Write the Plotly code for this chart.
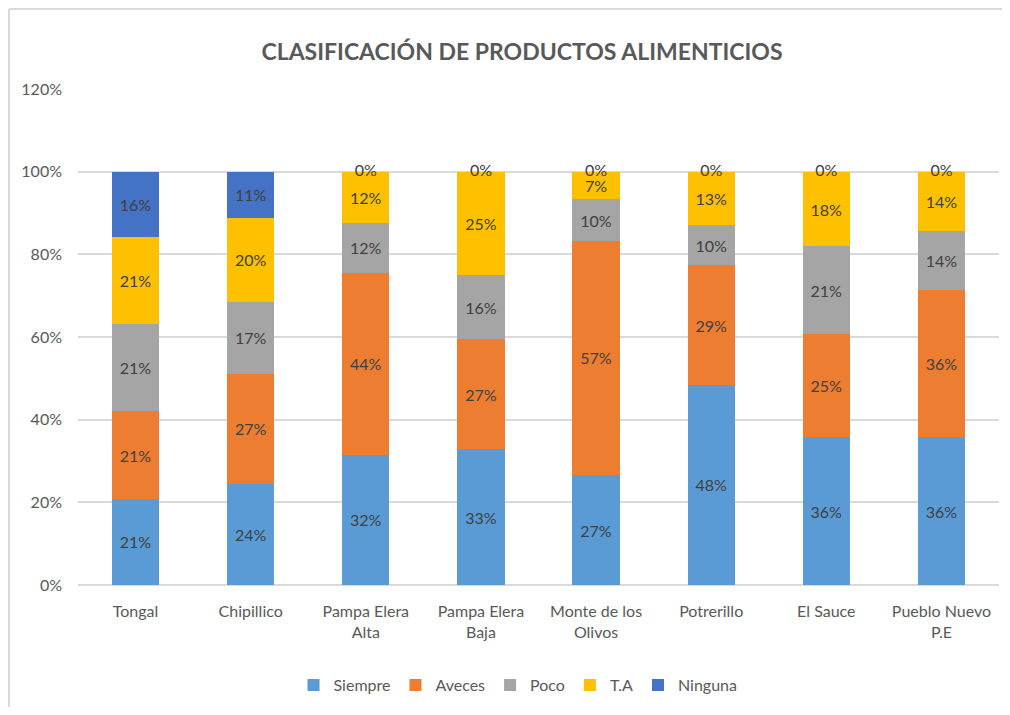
import plotly.graph_objects as go

categories = ["Tongal", "Chipillico", "Pampa Elera<br>Alta", "Pampa Elera<br>Baja",
              "Monte de los<br>Olivos", "Potrerillo", "El Sauce", "Pueblo Nuevo<br>P.E"]

siempre = [0.209, 0.244, 0.315, 0.328, 0.266, 0.484, 0.358, 0.357]
aveces  = [0.211, 0.267, 0.440, 0.266, 0.567, 0.290, 0.250, 0.357]
poco    = [0.211, 0.174, 0.122, 0.156, 0.100, 0.097, 0.211, 0.143]
ta      = [0.210, 0.204, 0.123, 0.250, 0.067, 0.129, 0.181, 0.143]
ninguna = [0.159, 0.111, 0.000, 0.000, 0.000, 0.000, 0.000, 0.000]

series = [
    ("Siempre", siempre, "#5B9BD5"),
    ("Aveces", aveces, "#ED7D31"),
    ("Poco", poco, "#A5A5A5"),
    ("T.A", ta, "#FFC000"),
    ("Ninguna", ninguna, "#4472C4"),
]

FONT = "Lato, Carlito, Calibri, sans-serif"
TXT = "#404040"
AX = "#595959"
FS = 16

fig = go.Figure()
for name, vals, color in series:
    fig.add_trace(go.Bar(
        name=name, x=categories, y=vals, marker_color=color,
        marker_line_width=0,
        text=[f"{round(v*100):d}%" if v > 0 else "" for v in vals],
        textposition="inside", insidetextanchor="middle",
        constraintext="none",
        textfont=dict(family=FONT, size=FS, color=TXT),
        hoverinfo="skip",
    ))

# labels for zero-valued "Ninguna" segments, placed at top of each stack
totals = [s + a + p + t + n for s, a, p, t, n in zip(siempre, aveces, poco, ta, ninguna)]
zx = [c for c, n in zip(categories, ninguna) if n == 0]
zy = [tot for tot, n in zip(totals, ninguna) if n == 0]
zt = [f"{round(n*100):d}%" for n in ninguna if n == 0]
fig.add_trace(go.Scatter(x=zx, y=zy, mode="text", text=zt, textposition="middle center",
                         textfont=dict(family=FONT, size=FS, color=TXT),
                         showlegend=False, hoverinfo="skip"))

# page body has an 8px offset; figure coordinates = page coordinates - 8
OFF = 8
W, H = 1010 - 2 * OFF, 715 - 2 * OFF
L, T = 78 - OFF, 89 - OFF
pw, ph = 921, 496
R, B = W - L - pw, H - T - ph
def px(x): return (x - OFF - L) / pw
def py(y): return (T + ph - (y - OFF)) / ph

fig.update_layout(
    width=W, height=H,
    margin=dict(l=L, r=R, t=T, b=B),
    barmode="stack", bargap=0.59,
    paper_bgcolor="white", plot_bgcolor="white",
    title=dict(text="<b>CLASIFICACIÓN DE PRODUCTOS ALIMENTICIOS</b>",
               x=(522 - OFF) / W, xanchor="center", y=1 - (52 - OFF) / H, yanchor="middle",
               font=dict(family=FONT, size=23, color=AX)),
    font=dict(family=FONT, size=FS, color=AX),
    legend=dict(orientation="h", x=px(518), xanchor="center", y=py(685), yanchor="middle",
                font=dict(family=FONT, size=FS, color=AX), traceorder="normal",
                itemwidth=30, itemsizing="constant"),
    xaxis=dict(showgrid=False, showline=False, ticks="", tickfont=dict(family=FONT, size=FS, color=AX),
               ticklabelstandoff=15),
    yaxis=dict(range=[0, 1.2], dtick=0.2, tickformat=".0%", showgrid=True, gridcolor="#D9D9D9",
               gridwidth=1.5, zeroline=True, zerolinecolor="#D9D9D9", zerolinewidth=1.5,
               showline=False, ticks="", tickfont=dict(family=FONT, size=FS, color=AX),
               ticklabelstandoff=15),
    shapes=[
        dict(type="line", xref="paper", yref="paper", x0=px(9), x1=px(1030), y0=py(9), y1=py(9),
             line=dict(color="#D9D9D9", width=2)),
        dict(type="line", xref="paper", yref="paper", x0=px(9), x1=px(9), y0=py(9), y1=py(740),
             line=dict(color="#D9D9D9", width=2)),
    ],
)

fig.write_html("out.html")
